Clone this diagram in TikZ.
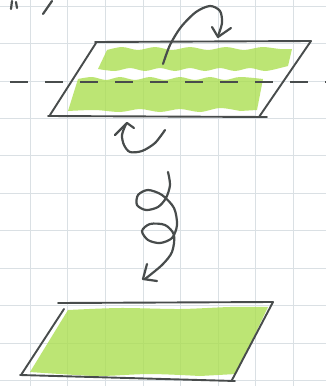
\documentclass[tikz,border=0pt]{standalone}
\usetikzlibrary{calc}
\definecolor{gridc}{RGB}{218,224,228}
\definecolor{leaf}{RGB}{170,222,78}
\definecolor{pencil}{RGB}{72,76,76}
\tikzset{
  gridline/.style={gridc, line width=0.5pt},
  band/.style={fill=leaf, fill opacity=0.78, draw=none},
  edge/.style={pencil, line width=1.9pt, line cap=round, line join=round},
  stroke/.style={pencil, line width=2.2pt, line cap=round, line join=round},
  axis/.style={pencil, line width=1.9pt, dash pattern=on 18pt off 17pt}
}
\begin{document}
\begin{tikzpicture}[x=1pt,y=-1pt]
\useasboundingbox[fill=white] (0,0) rectangle (326,386);
% grid paper
\foreach \gx in {30,67.5,105,143,180,218,255,293}
  \draw[gridline] (\gx,0) -- (\gx,386);
\foreach \gy in {6,43,81,118,155,193,230,268,305,343,380}
  \draw[gridline] (0,\gy) -- (326,\gy);
% partial label top-left
\draw[stroke] (12,1) -- (11,9);
\draw[stroke] (16,2) -- (17,8);
\draw[stroke] (52,1) -- (43,14);
% upper sheet: green bands
\path[band] plot[smooth] coordinates {(107,50) (122,47) (138,50) (155,47) (172,50) (190,47) (208,50) (226,47) (244,50) (262,47) (280,49) (292,49)}
  -- (288,66)
  -- plot[smooth] coordinates {(280,68) (265,71) (250,68) (235,71) (220,68) (205,71) (190,68) (175,71) (160,68) (145,71) (130,68) (115,71) (98,69)}
  -- cycle;
\path[band] plot[smooth] coordinates {(78,79) (92,77) (106,80) (120,77) (135,80) (150,77) (165,80) (180,77) (195,80) (210,77) (225,80) (240,77) (263,79)}
  -- (257,110)
  -- plot[smooth] coordinates {(240,111) (220,108) (200,112) (180,109) (160,112) (140,109) (120,112) (95,110) (68,111)}
  -- cycle;
% upper sheet outline
\draw[edge] (95,42) -- (311,41);
\draw[edge] (311,41) -- (259,117);
\draw[edge] (96,43) -- (50,115);
\draw[edge] (48,116) -- (267,117);
% axis
\draw[axis] (10,82) -- (326,82);
% top turning arrow
\draw[stroke] plot[smooth] coordinates {(163,64) (170,45) (181,27) (196,12) (210,6) (220,11) (222,23) (218,36)};
\draw[stroke] (212,27) -- (218,37) -- (231,28);
% bottom turning arrow
\draw[stroke] plot[smooth] coordinates {(165,130) (155,143) (142,151) (130,152) (124,145) (122,135) (126,124)};
\draw[stroke] (115,135) -- (127,123) -- (134,128);
% spiral arrow
\draw[stroke] plot[smooth] coordinates {(168,172) (170,185) (166,198) (158,207) (146,210) (137,205) (138,195) (148,190) (162,195) (174,208) (177,225) (172,238) (160,243) (148,240) (142,231) (150,224) (165,225) (174,235) (172,252) (162,265) (145,279)};
\draw[stroke] (147,264) -- (143,279) -- (157,281);
% lower sheet
\path[band] plot[smooth] coordinates {(68,310) (120,308) (180,309) (230,307) (268,307)}
  -- (236,374)
  -- plot[smooth] coordinates {(200,376) (150,374) (100,376) (60,374) (30,372)}
  -- cycle;
\draw[edge] (58,303) -- (273,302);
\draw[edge] (273,302) -- (232,380);
\draw[edge] (64,309) -- (21,375);
\draw[edge] (20,375) -- (235,381);
\end{tikzpicture}
\end{document}
